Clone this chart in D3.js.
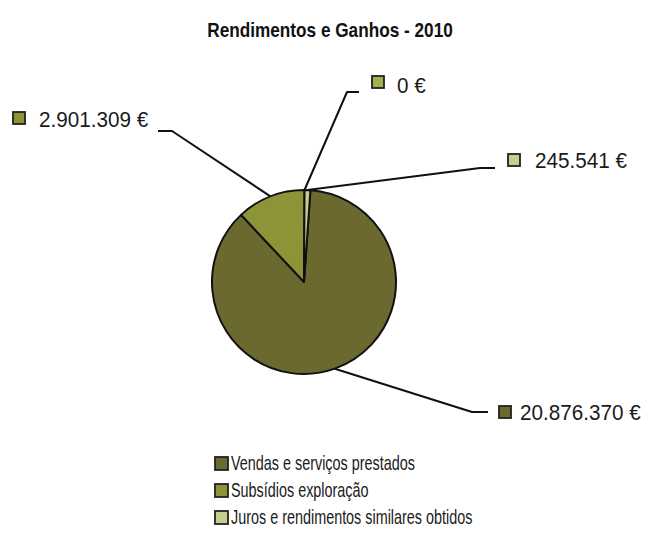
<!DOCTYPE html>
<html>
<head>
<meta charset="utf-8">
<script src="https://cdn.jsdelivr.net/npm/d3@7"></script>
<style>
  html, body { margin: 0; padding: 0; background: #ffffff; }
  svg { display: block; }
</style>
</head>
<body>
<svg id="chart" width="656" height="540"></svg>
<script>
// Rendimentos e Ganhos - 2010
const categories = [
  "Vendas e serviços prestados",
  "Subsídios exploração",
  "Outros rendimentos e ganhos",
  "Juros e rendimentos similares obtidos"
];
const values = [20876370, 2901309, 0, 245541];
const legendCategories = [
  "Vendas e serviços prestados",
  "Subsídios exploração",
  "Juros e rendimentos similares obtidos"
];
const colors = ["#6b6830", "#8d9438", "#a3b04c", "#c8cc8c"];

const title = "Rendimentos e Ganhos - 2010";

const W = 656, H = 540;
const cx = 304, cy = 282, R = 92;
const rotation = 4 * Math.PI / 180; // angle of first slice

const svg = d3.select("#chart");

const fmt = d3.formatLocale({ decimal: ",", thousands: ".", grouping: [3], currency: ["", " €"] });
const euro = v => fmt.format(",.0f")(v) + " €";

const color = d3.scaleOrdinal().domain(categories).range(colors);

const pie = d3.pie()
  .sort(null)
  .value(d => d.value)
  .startAngle(rotation)
  .endAngle(rotation + 2 * Math.PI);

const data = categories.map((c, i) => ({ name: c, value: values[i] }));
const arcs = pie(data);
const arc = d3.arc().innerRadius(0).outerRadius(R);

// title
svg.append("text")
  .attr("transform", `translate(330,37) scale(0.86,1)`)
  .attr("text-anchor", "middle")
  .attr("font-family", "Liberation Sans, Arial, sans-serif")
  .attr("font-weight", "bold")
  .attr("font-size", 20)
  .attr("fill", "#111")
  .text(title);

// slices
const g = svg.append("g").attr("transform", `translate(${cx},${cy})`);
g.selectAll("path.slice")
  .data(arcs.filter(a => a.value > 0))
  .join("path")
  .attr("class", "slice")
  .attr("d", arc)
  .attr("fill", d => color(d.data.name))
  .attr("stroke", "#111")
  .attr("stroke-width", 2)
  .attr("stroke-linejoin", "round");

// data label placement: elbow, end of leader, swatch and text anchor
const labelLayout = {
  "Vendas e serviços prestados":          { elbow: [472, 412], end: [488, 412], sw: [499, 406], tx: [520, 420] },
  "Subsídios exploração":                 { elbow: [172, 131], end: [158, 131], sw: [13, 112],  tx: [39, 127] },
  "Outros rendimentos e ganhos":          { elbow: [347, 92],  end: [359, 92],  sw: [372, 76],  tx: [397, 93] },
  "Juros e rendimentos similares obtidos":{ elbow: [480, 168], end: [495, 168], sw: [508, 154], tx: [535, 168] }
};

const lbl = svg.append("g");
arcs.forEach(a => {
  const L = labelLayout[a.data.name];
  const mid = (a.startAngle + a.endAngle) / 2;
  const p0 = [cx + R * Math.sin(mid), cy - R * Math.cos(mid)];
  lbl.append("polyline")
    .attr("points", [p0, L.elbow, L.end].map(p => p.join(",")).join(" "))
    .attr("fill", "none")
    .attr("stroke", "#111")
    .attr("stroke-width", 2)
    .attr("stroke-linejoin", "round");
  lbl.append("rect")
    .attr("x", L.sw[0]).attr("y", L.sw[1])
    .attr("width", 12).attr("height", 12)
    .attr("fill", color(a.data.name))
    .attr("stroke", "#222")
    .attr("stroke-width", 1.8);
  lbl.append("text")
    .attr("transform", `translate(${L.tx[0]},${L.tx[1]}) scale(0.92,1)`)
    .attr("font-family", "Liberation Sans, Arial, sans-serif")
    .attr("font-size", 22.5)
    .attr("fill", "#1a1a1a")
    .text(euro(a.value));
});

// legend
const legend = svg.append("g").attr("transform", "translate(215,457)");
const items = legend.selectAll("g")
  .data(legendCategories)
  .join("g")
  .attr("transform", (d, i) => `translate(0,${i * 27})`);
items.append("rect")
  .attr("x", 0).attr("y", 0)
  .attr("width", 13).attr("height", 13)
  .attr("fill", d => color(d))
  .attr("stroke", "#222")
  .attr("stroke-width", 1.8);
items.append("text")
  .attr("transform", "translate(16,13) scale(0.72,1)")
  .attr("font-family", "Liberation Sans, Arial, sans-serif")
  .attr("font-size", 20)
  .attr("fill", "#1a1a1a")
  .text(d => d);
</script>
</body>
</html>
